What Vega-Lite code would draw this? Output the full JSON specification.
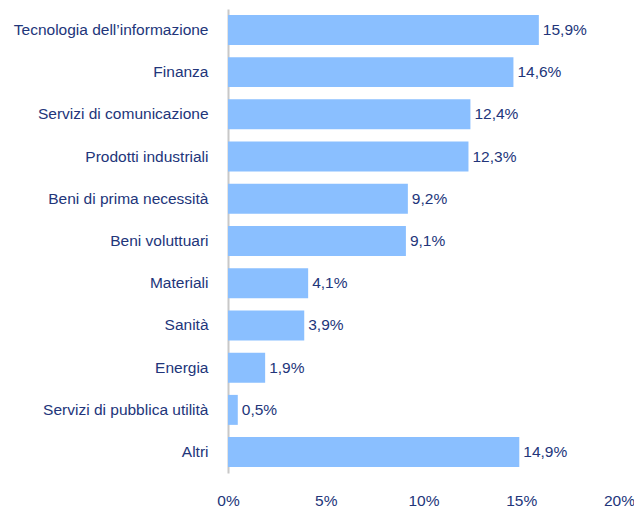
{
  "$schema": "https://vega.github.io/schema/vega-lite/v6.json",
  "width": 391,
  "height": 464,
  "autosize": {"type": "none"},
  "padding": {"left": 228, "top": 9, "right": 15, "bottom": 35},
  "background": "white",
  "config": {
    "locale": {"number": {"decimal": ",", "thousands": ".", "grouping": [3], "currency": ["€", ""]}},
    "view": {"stroke": null},
    "font": "Liberation Sans"
  },
  "data": {"values": [
    {"settore": "Tecnologia dell’informazione", "peso": 0.159},
    {"settore": "Finanza", "peso": 0.146},
    {"settore": "Servizi di comunicazione", "peso": 0.124},
    {"settore": "Prodotti industriali", "peso": 0.123},
    {"settore": "Beni di prima necessità", "peso": 0.092},
    {"settore": "Beni voluttuari", "peso": 0.091},
    {"settore": "Materiali", "peso": 0.041},
    {"settore": "Sanità", "peso": 0.039},
    {"settore": "Energia", "peso": 0.019},
    {"settore": "Servizi di pubblica utilità", "peso": 0.005},
    {"settore": "Altri", "peso": 0.149}
  ]},
  "encoding": {
    "y": {
      "field": "settore", "type": "nominal", "sort": null,
      "scale": {"paddingInner": 0.29, "paddingOuter": 0.14},
      "axis": {
        "title": null, "ticks": false, "labelPadding": 20, "labelFontSize": 15.5,
        "labelColor": "#22357a", "domainColor": "#c8c8c8", "domainWidth": 2, "labelLimit": 300
      }
    },
    "x": {
      "field": "peso", "type": "quantitative",
      "scale": {"domain": [0, 0.2]},
      "axis": {
        "title": null, "format": ".0%", "values": [0, 0.05, 0.1, 0.15, 0.2], "grid": false,
        "domain": false, "ticks": false, "labelPadding": 20, "labelFontSize": 15.5,
        "labelColor": "#22357a", "labelFlush": false
      }
    }
  },
  "layer": [
    {"mark": {"type": "bar", "color": "#8abfff"}},
    {"mark": {"type": "text", "align": "left", "dx": 4, "fontSize": 15.5, "color": "#22357a"},
     "encoding": {"text": {"field": "peso", "type": "quantitative", "format": ".1%"}}}
  ]
}
